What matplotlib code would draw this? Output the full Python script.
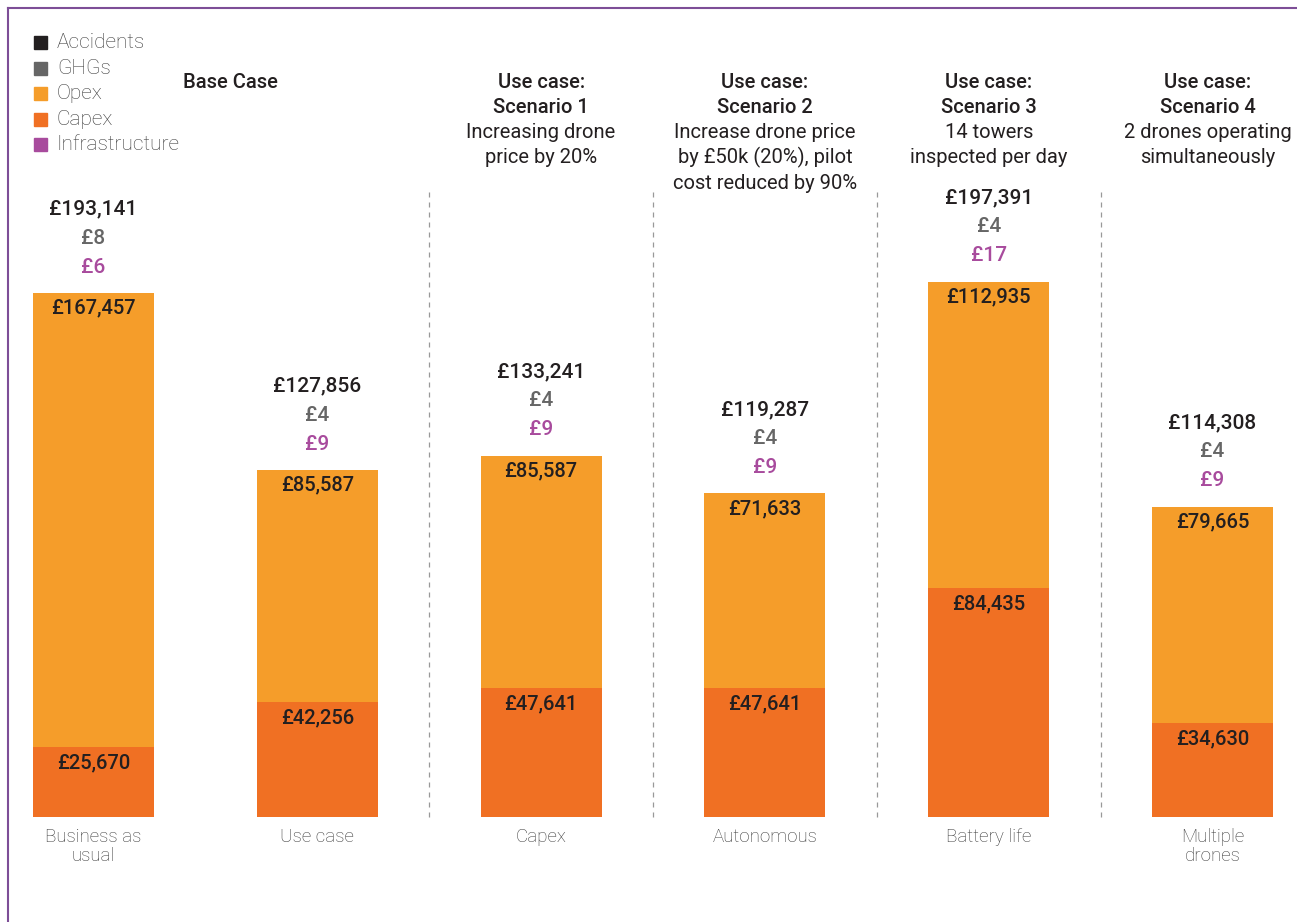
import matplotlib.pyplot as plt
from matplotlib.lines import Line2D
from matplotlib.patches import Rectangle
import numpy as np

plt.rcParams['font.family'] = ['Roboto', 'DejaVu Sans']

categories = ['Business as\nusual', 'Use case', 'Capex', 'Autonomous', 'Battery life', 'Multiple\ndrones']
capex = [25670, 42256, 47641, 47641, 84435, 34630]
opex = [167457, 85587, 85587, 71633, 112935, 79665]
infrastructure = [6, 9, 9, 9, 17, 9]
ghgs = [8, 4, 4, 4, 4, 4]
accidents = [0, 0, 0, 0, 0, 0]

headers = [
    (0.61, ['Base Case'], []),
    (2, ['Use case:', 'Scenario 1'], ['Increasing drone', 'price by 20%']),
    (3, ['Use case:', 'Scenario 2'], ['Increase drone price', 'by £50k (20%), pilot', 'cost reduced by 90%']),
    (4, ['Use case:', 'Scenario 3'], ['14 towers', 'inspected per day']),
    (4.98, ['Use case:', 'Scenario 4'], ['2 drones operating', 'simultaneously']),
]

c_acc = '#231f20'
c_ghg = '#666666'
c_opex = '#f59d2a'
c_capex = '#f07023'
c_infra = '#a84b9d'
c_frame = '#7d4e97'

W, H = 1297, 922
fig = plt.figure(figsize=(W / 100, H / 100), dpi=100)

# axes placement in pixels
px_left, px_right = 20, 1290
px_base, px_top = 817, 166
ax = fig.add_axes([px_left / W, 1 - px_base / H, (px_right - px_left) / W, (px_base - px_top) / H])
c0, step = 93.5, 223.8
ax.set_xlim((px_left - c0) / step, (px_right - c0) / step)
ymax = 240000
ax.set_ylim(0, ymax)
ax.axis('off')

x = np.arange(len(categories))
bw = 0.54
bottom = np.zeros(len(x))
for vals, col in [(capex, c_capex), (opex, c_opex), (infrastructure, c_infra), (ghgs, c_ghg), (accidents, c_acc)]:
    ax.bar(x, vals, bw, bottom=bottom, color=col, linewidth=0)
    bottom += np.array(vals)

totals = bottom
ppu = (px_base - px_top) / ymax  # pixels per unit
for i in x:
    ax.annotate(f'£{capex[i]:,}', (i, capex[i]), xytext=(0, -16), textcoords='offset pixels',
                ha='center', va='center', fontsize=14.5, color='#231f20', fontweight='medium')
    ax.annotate(f'£{opex[i]:,}', (i, capex[i] + opex[i]), xytext=(0, -15), textcoords='offset pixels',
                ha='center', va='center', fontsize=14.5, color='#231f20', fontweight='medium')
    ax.annotate(f'£{int(totals[i]):,}', (i, totals[i]), xytext=(0, 84), textcoords='offset pixels',
                ha='center', va='center', fontsize=15, color='#231f20', fontweight='medium')
    ax.annotate(f'£{ghgs[i]}', (i, totals[i]), xytext=(0, 55), textcoords='offset pixels',
                ha='center', va='center', fontsize=15, color=c_ghg, fontweight='medium')
    ax.annotate(f'£{infrastructure[i]}', (i, totals[i]), xytext=(0, 26), textcoords='offset pixels',
                ha='center', va='center', fontsize=15, color=c_infra, fontweight='medium')
    ax.annotate(categories[i], (i, 0), xytext=(0, -11), textcoords='offset pixels',
                ha='center', va='top', fontsize=13.5, color='#3a3a3a', fontweight='light',
                linespacing=1.05)

# dashed separators
for s in [1.5, 2.5, 3.5, 4.5]:
    ax.plot([s, s], [0, (px_base - 190) / ppu], ls=(0, (4, 4)), color='#999999', lw=0.9, clip_on=False)

# scenario headers
for xc, bold_lines, lines in headers:
    xf = (px_left + (xc - ax.get_xlim()[0]) * step) / W
    y = 82
    for t in bold_lines:
        fig.text(xf, 1 - y / H, t, ha='center', va='center',
                 fontsize=14.5, fontweight='medium', color='#231f20')
        y += 25.3
    for t in lines:
        fig.text(xf, 1 - y / H, t, ha='center', va='center',
                 fontsize=14.5, color='#231f20')
        y += 25.3

# legend
leg_items = [('Accidents', c_acc), ('GHGs', c_ghg), ('Opex', c_opex), ('Capex', c_capex), ('Infrastructure', c_infra)]
for k, (lab, col) in enumerate(leg_items):
    yy = 43 + k * 25.4
    fig.add_artist(Rectangle((34 / W, 1 - (yy + 6.5) / H), 13 / W, 13 / H, color=col, transform=fig.transFigure))
    fig.text(57 / W, 1 - yy / H, lab, ha='left', va='center', fontsize=15, color='#3a3a3a', fontweight='light')

# frame lines
fig.add_artist(Line2D([8 / W, 1], [1 - 8 / H, 1 - 8 / H], color=c_frame, lw=1.5, transform=fig.transFigure))
fig.add_artist(Line2D([8 / W, 8 / W], [0, 1 - 8 / H], color=c_frame, lw=1.5, transform=fig.transFigure))

fig.savefig('out.png', dpi=100)
